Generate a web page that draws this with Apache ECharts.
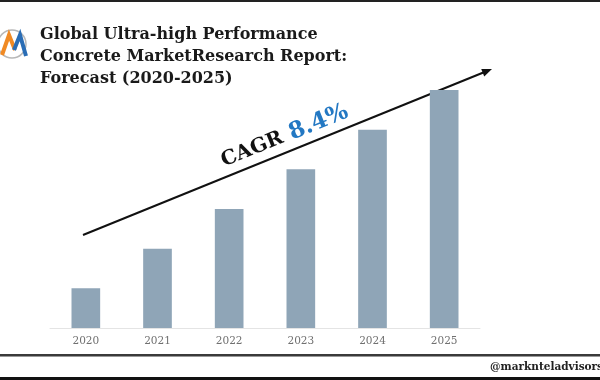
<!DOCTYPE html>
<html><head><meta charset="utf-8">
<script src="https://cdn.jsdelivr.net/npm/echarts@6/dist/echarts.min.js"></script>
<style>html,body{margin:0;padding:0;background:#fff}#c{width:600px;height:380px}</style>
</head><body><div id="c"></div>
<script>
const categories = ['2020','2021','2022','2023','2024','2025'];
const marketValues = [1.0, 2.0, 3.0, 4.0, 5.0, 6.0];
const titleLines = ['Global Ultra-high Performance','Concrete MarketResearch Report:','Forecast (2020-2025)'];
const cagrLabel = 'CAGR';
const cagrValue = '8.4%';
const sourceText = '@marknteladvisors';

const chart = echarts.init(document.getElementById('c'), null, {renderer:'canvas'});
const x0=83, y0=235, x1=492, y1=69;
const dx=x1-x0, dy=y1-y0, L=Math.sqrt(dx*dx+dy*dy);
const ux=dx/L, uy=dy/L, nx=-uy, ny=ux;
const ang=Math.atan2(-dy,dx);
const hl=10, hw=4;
const head=[[x1,y1],[x1-hl*ux+hw*nx,y1-hl*uy+hw*ny],[x1-hl*ux-hw*nx,y1-hl*uy-hw*ny]];
const serif='"DejaVu Serif", "Liberation Serif", serif';

chart.setOption({
  backgroundColor:'#ffffff',
  animation:false,
  grid:{left:50,right:120,top:90,bottom:52},
  xAxis:{type:'category',data:categories,
    axisLine:{lineStyle:{color:'#e4e4e4',width:1}},
    axisTick:{show:false},
    axisLabel:{color:'#707070',fontFamily:serif,fontSize:10.5,margin:8}},
  yAxis:{type:'value',min:0,max:6,show:false,splitLine:{show:false}},
  series:[{type:'bar',data:marketValues,barWidth:'40%',itemStyle:{color:'#8fa5b7'}}],
  graphic:[
    {type:'rect',shape:{x:0,y:0,width:600,height:2},style:{fill:'#222'}},
    {type:'rect',shape:{x:0,y:354,width:600,height:2},style:{fill:'#3a3a3a'}},
    {type:'rect',shape:{x:0,y:356,width:600,height:1},style:{fill:'#999'}},
    {type:'rect',shape:{x:0,y:377,width:600,height:3},style:{fill:'#111'}},
    {type:'text',x:603,y:367,style:{text:sourceText,align:'right',verticalAlign:'middle',font:'bold 10.5px '+serif,fill:'#222'}},
    {type:'text',x:40,y:24,style:{text:titleLines.join('\n'),font:'bold 16px '+serif,lineHeight:22,fill:'#1a1a1a',align:'left',verticalAlign:'top'}},
    {type:'circle',shape:{cx:12,cy:44,r:14},style:{fill:'none',stroke:'#b8b8b8',lineWidth:1.5}},
    {type:'polyline',shape:{points:[[2,55],[9,35],[15,50]]},style:{fill:'none',stroke:'#f08a24',lineWidth:4}},
    {type:'polyline',shape:{points:[[14,50],[20,35],[26,56]]},style:{fill:'none',stroke:'#2a6db5',lineWidth:4}},
    {type:'line',shape:{x1:x0,y1:y0,x2:x1-hl*ux*0.6,y2:y1-hl*uy*0.6},style:{stroke:'#111',lineWidth:2}},
    {type:'polygon',shape:{points:head},style:{fill:'#111'}},
    {type:'text',x:289,y:147,rotation:ang,
      style:{text:'{a|'+cagrLabel+'}{b|'+cagrValue+'}',align:'center',verticalAlign:'bottom',
        rich:{a:{font:'bold 20px '+serif,fill:'#111'},b:{font:'bold 23px '+serif,fill:'#2378c3',padding:[0,0,0,8]}}}}
  ]
});
</script></body></html>
